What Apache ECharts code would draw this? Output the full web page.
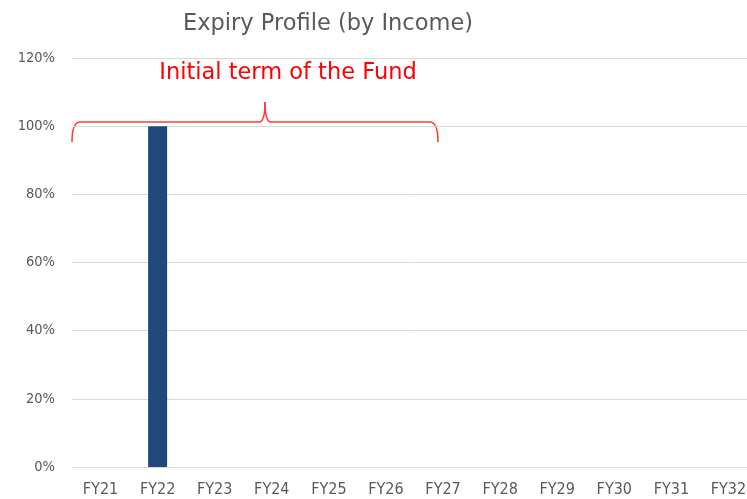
<!DOCTYPE html>
<html>
<head>
<meta charset="utf-8">
<script src="https://cdn.jsdelivr.net/npm/echarts@6/dist/echarts.min.js"></script>
<style>
html,body{margin:0;padding:0;background:#fff;overflow:hidden;}
#c{width:757px;height:499px;}
</style>
</head>
<body>
<div id="c"></div>
<script>
var categories = ['FY21','FY22','FY23','FY24','FY25','FY26','FY27','FY28','FY29','FY30','FY31','FY32'];
var expiryValues = [0, 1.0, 0, 0, 0, 0, 0, 0, 0, 0, 0, 0];
var yTicks = [0, 0.2, 0.4, 0.6, 0.8, 1.0, 1.2];

var fontFam = '"DejaVu Sans Condensed", "Liberation Sans Narrow", "Liberation Sans", sans-serif';
var braceStyle = {stroke: '#ff3b3b', lineWidth: 1.6, fill: null};
var chart = echarts.init(document.getElementById('c'), null, {renderer: 'canvas'});
chart.setOption({
  animation: false,
  backgroundColor: '#ffffff',
  title: {
    text: 'Expiry Profile (by Income)',
    left: 323, top: 8, textAlign: 'center',
    textStyle: {color: '#595959', fontSize: 22.5, fontWeight: 'normal', fontFamily: '"DejaVu Sans", sans-serif'}
  },
  grid: {left: 72, right: 0, top: 58, bottom: 32, containLabel: false},
  xAxis: {
    type: 'category', data: categories,
    axisLine: {show: true, lineStyle: {color: '#d9d9d9'}},
    axisTick: {show: false},
    axisLabel: {color: '#595959', fontSize: 16, margin: 15, fontFamily: fontFam, interval: 0}
  },
  yAxis: {
    type: 'value', min: 0, max: 1.2, interval: 0.2,
    axisLine: {show: false}, axisTick: {show: false},
    splitLine: {lineStyle: {color: '#d9d9d9', width: 1}},
    axisLabel: {color: '#595959', fontSize: 14.5, margin: 17, fontFamily: fontFam,
      formatter: function (v) { return Math.round(v * 100) + '%'; }}
  },
  series: [{
    type: 'bar', data: expiryValues, barWidth: 19,
    itemStyle: {color: '#1f497d'}
  }],
  graphic: [
    {
      type: 'text',
      style: {text: 'Initial term of the Fund', x: 288, y: 73, align: 'center', verticalAlign: 'middle',
        fill: '#ff0000', fontSize: 22.5, fontFamily: '"DejaVu Sans", sans-serif'}
    },
    {type: 'bezierCurve', shape: {x1: 72, y1: 142, cpx1: 72, cpy1: 122, x2: 80, y2: 122}, style: braceStyle},
    {type: 'line', shape: {x1: 80, y1: 122, x2: 259, y2: 122}, style: braceStyle},
    {type: 'bezierCurve', shape: {x1: 259, y1: 122, cpx1: 265, cpy1: 122, x2: 265, y2: 102}, style: braceStyle},
    {type: 'bezierCurve', shape: {x1: 265, y1: 102, cpx1: 265, cpy1: 122, x2: 271, y2: 122}, style: braceStyle},
    {type: 'line', shape: {x1: 271, y1: 122, x2: 430, y2: 122}, style: braceStyle},
    {type: 'bezierCurve', shape: {x1: 430, y1: 122, cpx1: 438, cpy1: 122, x2: 438, y2: 142}, style: braceStyle}
  ]
});
</script>
</body>
</html>
